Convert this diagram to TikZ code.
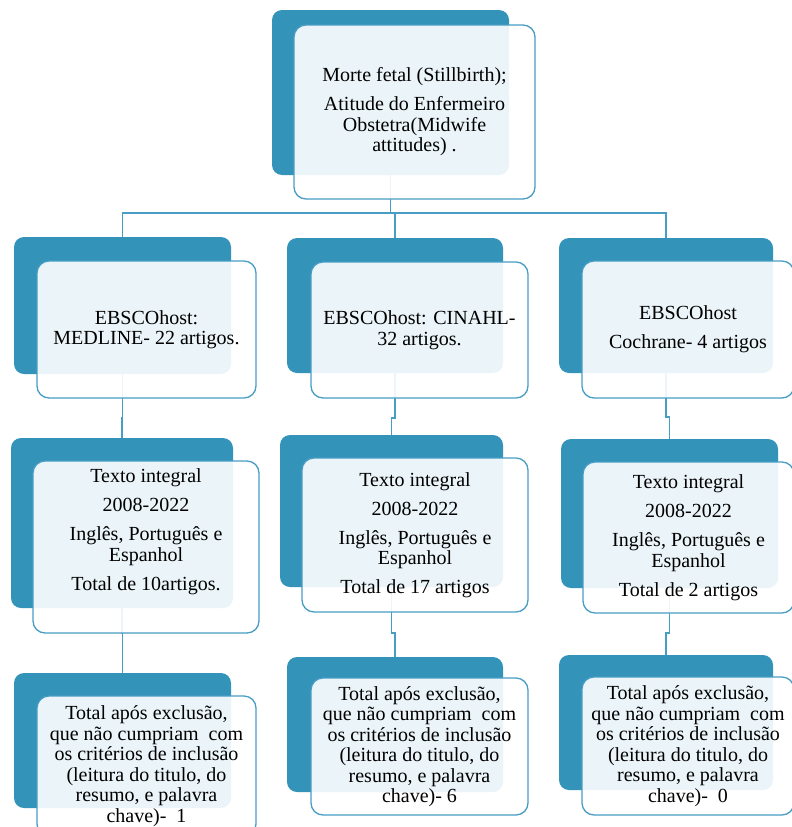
\documentclass[tikz,border=0pt]{standalone}
\usepackage{fontspec}
\setmainfont{Liberation Serif}
\usepackage{tikz}
\definecolor{boxcolor}{RGB}{52,147,185}
\definecolor{linecolor}{RGB}{72,157,196}

\begin{document}
\begin{tikzpicture}[x=1pt, y=-1pt,
    back/.style={fill=boxcolor, rounded corners=10pt, anchor=north west, inner sep=0pt, outer sep=0pt},
    front/.style={draw=linecolor, line width=1.3pt, preaction={fill=white, fill opacity=0.9}, rounded corners=12pt, anchor=north west, inner sep=0pt, outer sep=0pt, align=flush center, text width=205pt, font=\fontsize{20}{20.5}\selectfont},
    link/.style={draw=linecolor, line width=1.4pt}]
\useasboundingbox (0,0) rectangle (792,827);

\node[back, minimum width=237, minimum height=165] (q) at (272,10) {};
\node[back, minimum width=217, minimum height=137] (med) at (14,237) {};
\node[back, minimum width=216, minimum height=135] (cin) at (287,238) {};
\node[back, minimum width=214, minimum height=135] (coc) at (559,238) {};
\node[back, minimum width=222, minimum height=170] (medf) at (11,438) {};
\node[back, minimum width=223, minimum height=152] (cinf) at (280,435) {};
\node[back, minimum width=217, minimum height=149] (cocf) at (561,439) {};
\node[back, minimum width=217, minimum height=135] (medx) at (14,673) {};
\node[back, minimum width=216, minimum height=135] (cinx) at (287,657) {};
\node[back, minimum width=214, minimum height=135] (cocx) at (559,655) {};

\draw[link] (q.south) -- ++(0,38) -| (med.north);
\draw[link] (q.south) -- ++(0,38) -| (cin.north);
\draw[link] (q.south) -- ++(0,38) -| (coc.north);
\draw[link] (med.south) -- ++(0,44) -| (medf.north);
\draw[link] (cin.south) -- ++(0,45) -| (cinf.north);
\draw[link] (coc.south) -- ++(0,44) -| (cocf.north);
\draw[link] (medf.south) -- ++(0,25) -| (medx.north);
\draw[link] (cinf.south) -- ++(0,46) -| (cinx.north);
\draw[link] (cocf.south) -- ++(0,45) -| (cocx.north);

\node[front, minimum width=241, minimum height=174] (qt) at (294,25) {Morte fetal (Stillbirth);\\[8.5pt]Atitude do Enfermeiro\\Obstetra(Midwife\\attitudes) .};
\node[front, minimum width=219, minimum height=137] (medt) at (37,261) {EBSCOhost:\\MEDLINE- 22 artigos.};
\node[front, minimum width=217, minimum height=136] (cint) at (311,262) {EBSCOhost: CINAHL-\\32 artigos.};
\node[front, minimum width=212, minimum height=137] (coct) at (582,261) {EBSCOhost\\[8.5pt]Cochrane- 4 artigos};
\node[front, minimum width=226, minimum height=172, text depth=142pt] (medft) at (33,461) {Texto integral\\[8.5pt]2008-2022\\[8.5pt]Inglês, Português e\\Espanhol\\[8.5pt]Total de 10artigos.};
\node[front, minimum width=226, minimum height=154] (cinft) at (302,458) {Texto integral\\[8.5pt]2008-2022\\[8.5pt]Inglês, Português e\\Espanhol\\[8.5pt]Total de 17 artigos};
\node[front, minimum width=211, minimum height=151] (cocft) at (583,462) {Texto integral\\[8.5pt]2008-2022\\[8.5pt]Inglês, Português e\\Espanhol\\[8.5pt]Total de 2 artigos};
\node[front, minimum width=219, minimum height=140] (medxt) at (37,696) {Total após exclusão,\\que não cumpriam~ com\\os critérios de inclusão\\(leitura do titulo, do\\resumo, e palavra\\chave)-~ 1};
\node[front, minimum width=217, minimum height=137] (cinxt) at (311,678) {Total após exclusão,\\que não cumpriam~ com\\os critérios de inclusão\\(leitura do titulo, do\\resumo, e palavra\\chave)- 6};
\node[front, minimum width=212, minimum height=138] (cocxt) at (582,677) {Total após exclusão,\\que não cumpriam~ com\\os critérios de inclusão\\(leitura do titulo, do\\resumo, e palavra\\chave)-~ 0};
\end{tikzpicture}
\end{document}
